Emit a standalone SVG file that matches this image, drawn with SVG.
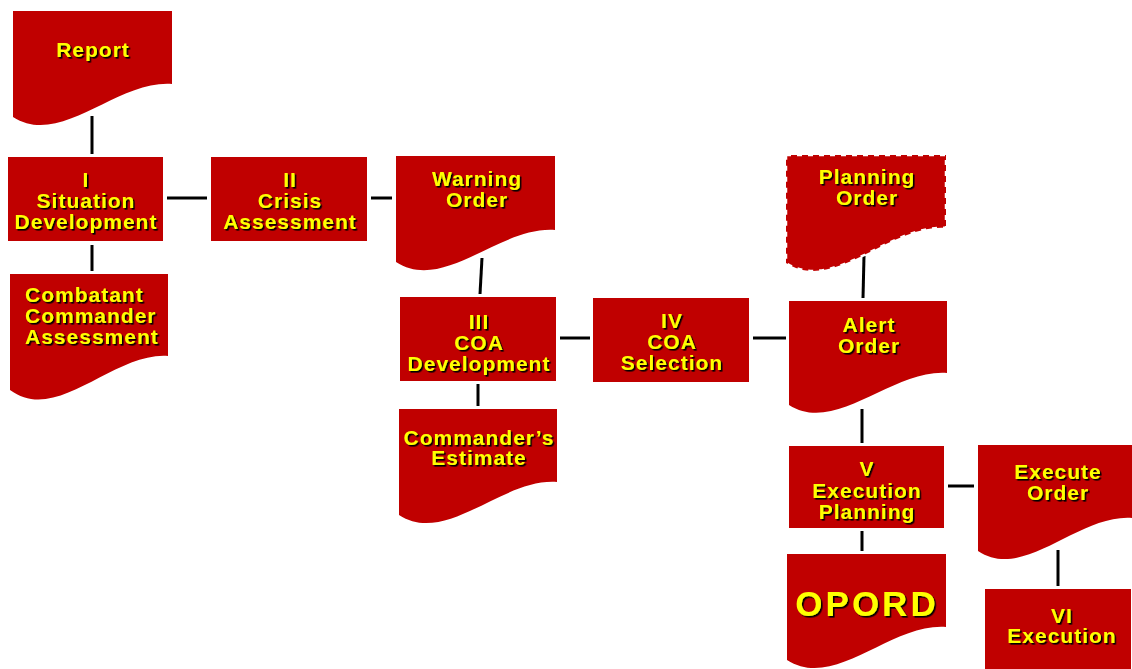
<svg xmlns="http://www.w3.org/2000/svg" width="1132" height="669" viewBox="0 0 1132 669">
<defs>
<filter id="sh" x="-10%" y="-20%" width="130%" height="150%">
<feDropShadow dx="1.6" dy="1.6" stdDeviation="0" flood-color="#000" flood-opacity="1"/>
</filter>
<style>
.box{fill:#C00000}
.doc{fill:#C00000}
.dash{stroke:#ffffff;stroke-width:2.5;stroke-dasharray:5 6}
.t{font-family:"Liberation Sans",Arial,sans-serif;font-weight:bold;font-size:21px;fill:#FFFF00;letter-spacing:1px;text-anchor:middle;filter:url(#sh)}
.big{font-size:35px;letter-spacing:3px}
.c line{stroke:#000;stroke-width:3}
</style>
</defs>
<rect width="1132" height="669" fill="#ffffff"/>
<g class="c" id="connectors">
<line x1="92" y1="116" x2="92" y2="154"/>
<line x1="92" y1="245" x2="92" y2="271"/>
<line x1="167" y1="198" x2="207" y2="198"/>
<line x1="371" y1="198" x2="392" y2="198"/>
<line x1="482" y1="258" x2="480" y2="294"/>
<line x1="478" y1="384" x2="478" y2="406"/>
<line x1="560" y1="338" x2="590" y2="338"/>
<line x1="753" y1="338" x2="786" y2="338"/>
<line x1="864" y1="256" x2="863" y2="298"/>
<line x1="862" y1="409" x2="862" y2="443"/>
<line x1="948" y1="486" x2="974" y2="486"/>
<line x1="862" y1="531" x2="862" y2="551"/>
<line x1="1058" y1="550" x2="1058" y2="586"/>
</g>
<g id="report">
<path class="doc" d="M13,11 H172 V84 C116,80 61,148 13,117 Z"/>
<text class="t" x="93" y="57">Report</text>
</g>
<g id="situation">
<rect class="box" x="8" y="157" width="155" height="84"/>
<text class="t" x="86" y="187">I</text>
<text class="t" x="86" y="208">Situation</text>
<text class="t" x="86" y="229">Development</text>
</g>
<g id="combatant">
<path class="doc" d="M10,274 H168 V356 C113,352 57,425 10,390 Z"/>
<text class="t" x="25" y="302" style="text-anchor:start">Combatant</text>
<text class="t" x="25" y="323" style="text-anchor:start">Commander</text>
<text class="t" x="25" y="344" style="text-anchor:start">Assessment</text>
</g>
<g id="crisis">
<rect class="box" x="211" y="157" width="156" height="84"/>
<text class="t" x="290" y="187">II</text>
<text class="t" x="290" y="208">Crisis</text>
<text class="t" x="290" y="229">Assessment</text>
</g>
<g id="warning">
<path class="doc" d="M396,156 H555 V230 C499,226 444,293 396,262 Z"/>
<text class="t" x="477" y="186">Warning</text>
<text class="t" x="477" y="207">Order</text>
</g>
<g id="coadev">
<rect class="box" x="400" y="297" width="156" height="84"/>
<text class="t" x="479" y="329">III</text>
<text class="t" x="479" y="350">COA</text>
<text class="t" x="479" y="371">Development</text>
</g>
<g id="estimate">
<path class="doc" d="M399,409 H557 V482 C502,478 446,546 399,515 Z"/>
<text class="t" x="479" y="445">Commander’s</text>
<text class="t" x="479" y="465">Estimate</text>
</g>
<g id="coasel">
<rect class="box" x="593" y="298" width="156" height="84"/>
<text class="t" x="672" y="328">IV</text>
<text class="t" x="672" y="349">COA</text>
<text class="t" x="672" y="370">Selection</text>
</g>
<g id="planning">
<path class="doc dash" d="M786,155 H946 V228 C890,224 834,294 786,263 Z"/>
<text class="t" x="867" y="184">Planning</text>
<text class="t" x="867" y="205">Order</text>
</g>
<g id="alert">
<path class="doc" d="M789,301 H947 V373 C892,369 836,435 789,405 Z"/>
<text class="t" x="869" y="332">Alert</text>
<text class="t" x="869" y="353">Order</text>
</g>
<g id="execplan">
<rect class="box" x="789" y="446" width="155" height="82"/>
<text class="t" x="867" y="476">V</text>
<text class="t" x="867" y="498">Execution</text>
<text class="t" x="867" y="519">Planning</text>
</g>
<g id="opord">
<path class="doc" d="M787,554 H946 V627 C890,623 835,691 787,660 Z"/>
<text class="t big" x="867" y="616">OPORD</text>
</g>
<g id="execute">
<path class="doc" d="M978,445 H1132 V518 C1078,514 1024,582 978,551 Z"/>
<text class="t" x="1058" y="479">Execute</text>
<text class="t" x="1058" y="500">Order</text>
</g>
<g id="execution">
<rect class="box" x="985" y="589" width="146" height="80"/>
<text class="t" x="1062" y="623">VI</text>
<text class="t" x="1062" y="643">Execution</text>
</g>
</svg>
